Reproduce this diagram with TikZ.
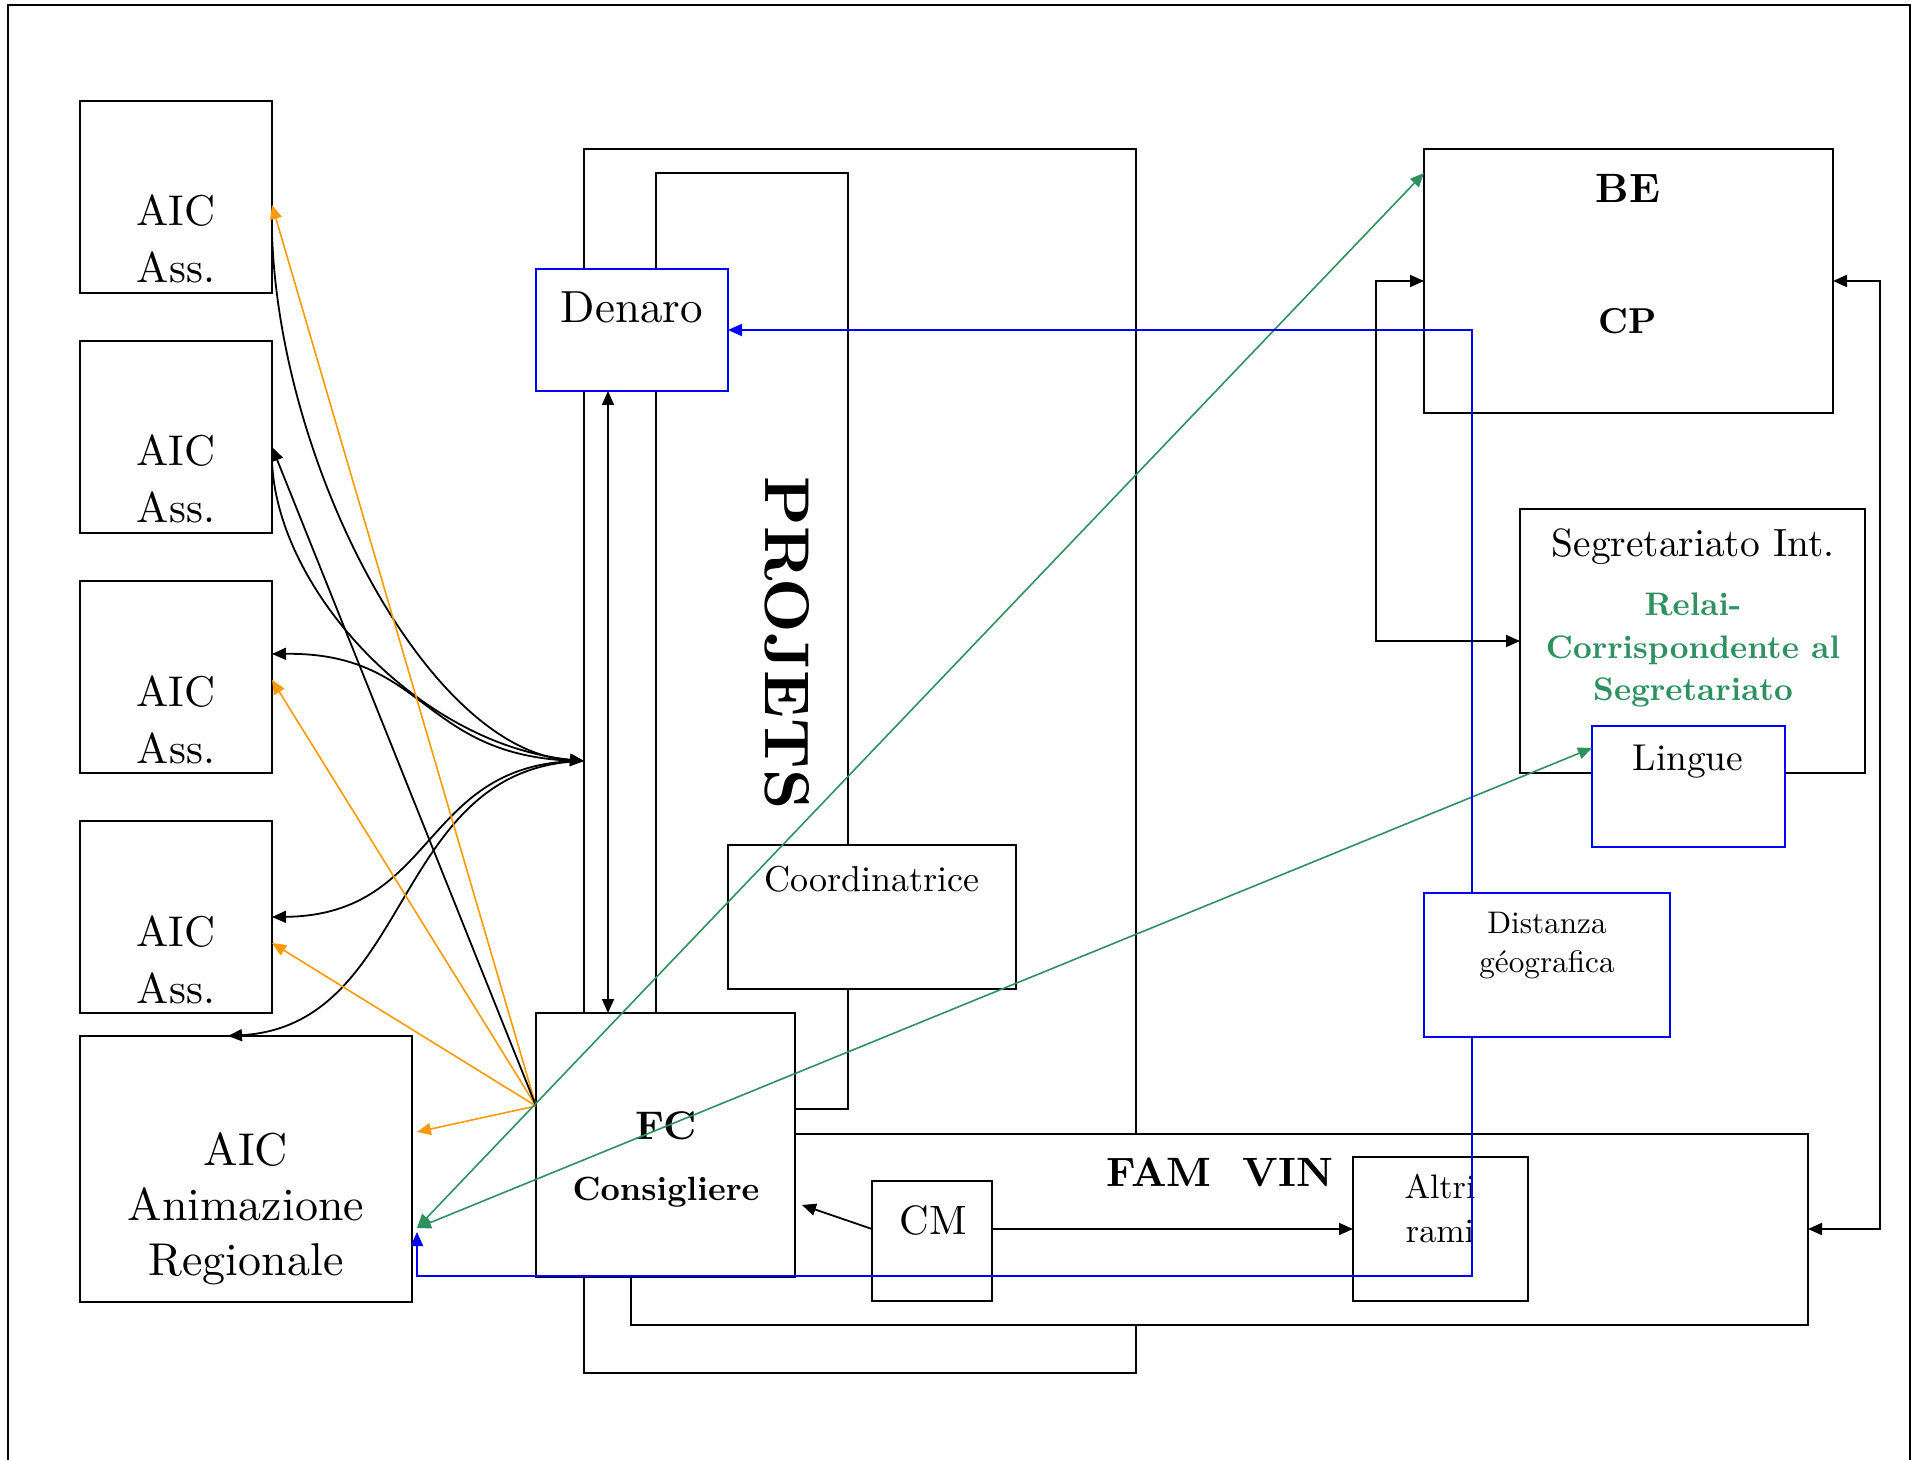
\documentclass[tikz,border=0pt]{standalone}
\usepackage{fontspec}
\setmainfont{lmroman10-regular.otf}[BoldFont=lmroman10-bold.otf, ItalicFont=lmroman10-italic.otf, BoldItalicFont=lmroman10-bolditalic.otf]
\usetikzlibrary{arrows.meta,fit,calc}
\definecolor{dgreen}{RGB}{46,145,95}
\definecolor{dorange}{RGB}{255,153,0}
\definecolor{dblue}{RGB}{0,0,255}
\newcommand{\myfs}[2]{\fontsize{#1}{#2}\selectfont}
\begin{document}
\begin{tikzpicture}[x=0.5pt,y=-0.5pt,
  box/.style={draw, line width=1pt, inner sep=0pt, outer sep=0pt, fill=white},
  bbox/.style={box, draw=dblue},
  tx/.style={anchor=base, inner sep=0pt, outer sep=0pt},
  arr/.style={-{Triangle[length=7pt,width=6pt]}},
  darr/.style={{Triangle[length=7pt,width=6pt]}-{Triangle[length=7pt,width=6pt]}},
  con/.style={line width=0.9pt},
  ocon/.style={line width=0.8pt, draw=dorange},
  gcon/.style={line width=0.8pt, draw=dgreen},
  ucon/.style={line width=1pt, draw=dblue},
  aicf/.style={tx, font=\myfs{21.5}{26}},
  aicg/.style={tx, font=\myfs{23}{27}}
]
\useasboundingbox (0,0) rectangle (1923,1460);
% frame
\draw[line width=1.2pt] (8,1460) -- (8,5) -- (1910,5) -- (1910,1460);

% PROJETS
\node[box, fill=none, fit={(584,149) (1136,1373)}] (projout) {};
\node[box, fill=none, fit={(656,173) (848,1109)}] (projin) {};
\node[tx, anchor=center, rotate=-90, font=\bfseries\myfs{31.6}{37}] (projtxt) at (787,643) {PROJETS};

\node[box, fit={(728,845) (1016,989)}] (coord) {};
\node[tx, font=\myfs{18}{22}] (coordtxt) at (872,891) {Coordinatrice};

\node[bbox, fit={(536,269) (728,391)}] (den) {};
\node[tx, font=\myfs{22.5}{27}] (dentxt) at (632,323) {Denaro};

\node[box, fit={(631,1134) (1808,1325)}] (fam) {};
\node[tx, font=\bfseries\myfs{20.5}{24}] (famtxt) at (1220,1186) {FAM\ \ VIN};

\node[box, fit={(536,1013) (795,1277)}] (fc) {};
\node[tx, font=\bfseries\myfs{20}{24}] (fctxt) at (666,1139) {FC};
\node[tx, font=\bfseries\myfs{16.8}{20}] (constxt) at (666,1200) {Consigliere};

\node[box, fit={(872,1181) (992,1301)}] (cm) {};
\node[tx, font=\myfs{20.5}{25}] (cmtxt) at (933,1234) {CM};

\node[box, fit={(1353,1157) (1528,1301)}] (alt) {};
\node[tx, font=\myfs{17}{22}] (alttxt1) at (1440,1198) {Altri};
\node[tx, font=\myfs{17}{22}] (alttxt2) at (1440,1242) {rami};

\node[box, fit={(1424,149) (1833,413)}] (be) {};
\node[tx, font=\bfseries\myfs{20.5}{25}] (betxt) at (1628,203) {BE};
\node[tx, font=\bfseries\myfs{18}{22}] (cptxt) at (1628,334) {CP};

\node[box, fit={(1520,509) (1865,773)}] (seg) {};
\node[tx, font=\myfs{19.7}{24}] (segtxt) at (1693,557) {Segretariato Int.};
\node[tx, font=\bfseries\myfs{16.3}{21}, text=dgreen] (rel1) at (1693,616) {Relai-};
\node[tx, font=\bfseries\myfs{16.3}{21}, text=dgreen] (rel2) at (1693,658) {Corrispondente al};
\node[tx, font=\bfseries\myfs{16.3}{21}, text=dgreen] (rel3) at (1693,700) {Segretariato};

\node[bbox, fit={(1592,726) (1785,847)}] (ling) {};
\node[tx, font=\myfs{18.7}{23}] (lingtxt) at (1688,770) {Lingue};

\node[bbox, fit={(1424,893) (1670,1037)}] (dist) {};
\node[tx, font=\myfs{15.6}{19.5}] (disttxt1) at (1547,933) {Distanza};
\node[tx, font=\myfs{15.6}{19.5}] (disttxt2) at (1547,972) {géografica};

% AIC boxes
\node[box, fit={(80,101) (272,293)}] (aic1) {};
\node[aicf] (aic1a) at (176,226) {AIC};
\node[aicf] (aic1b) at (176,283) {Ass.};
\node[box, fit={(80,341) (272,533)}] (aic2) {};
\node[aicf] (aic2a) at (176,466) {AIC};
\node[aicf] (aic2b) at (176,523) {Ass.};
\node[box, fit={(80,581) (272,773)}] (aic3) {};
\node[aicf] (aic3a) at (176,706) {AIC};
\node[aicf] (aic3b) at (176,763) {Ass.};
\node[box, fit={(80,821) (272,1013)}] (aic4) {};
\node[aicf] (aic4a) at (176,946) {AIC};
\node[aicf] (aic4b) at (176,1003) {Ass.};
\node[box, fit={(80,1036) (412,1302)}] (aicA) {};
\node[aicg] (aicAa) at (246,1165) {AIC};
\node[aicg] (aicAb) at (246,1220) {Animazione};
\node[aicg] (aicAc) at (246,1275) {Regionale};

% helper coordinates
\coordinate (J) at (projout.west);
\coordinate (O) at (fc.west |- 0,1106);
\coordinate (aAe) at ([xshift=2.5pt]aicA.east);
\coordinate (aAn) at ([xshift=-9pt]aicA.north);
\coordinate (fcE) at ([xshift=3.5pt]fc.east);

% black curves to PROJETS
\draw[con,arr] (aic1.east |- 0,234) .. controls (280,470) and (430,752) .. (J);
\draw[con,arr] (aic2.east |- 0,460) .. controls (276,590) and (420,745) .. (J);
\draw[con,arr] (J) .. controls (420,760) and (430,652) .. (aic3.east |- 0,654);
\draw[con,arr] (J) .. controls (420,760) and (440,915) .. (aic4.east |- 0,917);
\draw[con,arr] (J) .. controls (390,765) and (415,1025) .. (aAn);

% from FC
\draw[ocon,arr] (O) -- (aic1.east |- 0,205);
\draw[ocon,arr] (O) -- (aic3.east |- 0,680);
\draw[ocon,arr] (O) -- (aic4.east |- 0,943);
\draw[ocon,arr] (O) -- (aAe |- 0,1132);
\draw[con,arr] (O) -- (aic2.east |- 0,447);

% green
\draw[gcon,darr] (aAe |- 0,1228) -- (be.west |- 0,173);
\draw[gcon,darr] (aAe |- 0,1228) -- (ling.west |- 0,748);

% blue
\draw[ucon,arr] (dist.north -| 1472,0) |- (den.east |- 0,330);
\draw[ucon,arr] (dist.south -| 1472,0) |- (aAe |- 0,1276) -- (aAe |- 0,1232);

% black right side
\draw[con,darr] (be.west |- 0,281) -- (1376,281) -- (1376,641) -- (seg.west |- 0,641);
\draw[con,darr] (be.east |- 0,281) -- (1880,281) -- (1880,1229) -- (fam.east |- 0,1229);
\draw[con,arr] (cm.west |- 0,1229) -- (fcE |- 0,1205);
\draw[con,arr] (cm.east |- 0,1229) -- (alt.west |- 0,1229);
\draw[con,darr] (den.south -| 608,0) -- (fc.north -| 608,0);
\end{tikzpicture}
\end{document}
